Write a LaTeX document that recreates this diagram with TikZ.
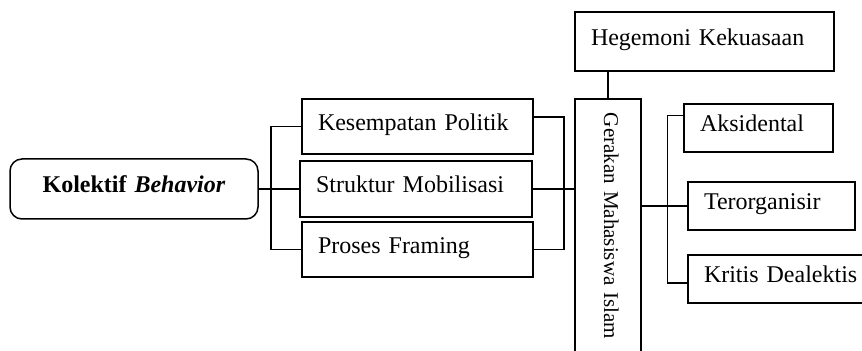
\documentclass[tikz,border=0pt]{standalone}
\usepackage{fontspec}
\setmainfont{Liberation Serif}
\usetikzlibrary{calc}

\tikzset{
  kotak/.style={draw, line width=0.75pt, inner xsep=8pt, align=left, text height=8pt, text depth=4pt, font=\fontsize{12pt}{14pt}\selectfont},
  garis/.style={line width=0.75pt},
}

\begin{document}
\begin{tikzpicture}[x=0.5pt,y=-0.5pt]
	\clip (0,0) rectangle (862,351);
	% kiri
	\node[kotak, rounded corners=6pt, align=center, text width=108pt, minimum height=30pt] (kolektif) at (134,189) {\textbf{Kolektif \textit{Behavior}}};
	\node[kotak, text width=99.5pt, minimum height=27.5pt] (kesempatan) at (417.5,126.5) {Kesempatan Politik};
	\node[kotak, text width=100pt, minimum height=28pt] (struktur) at (416,189) {Struktur Mobilisasi};
	\node[kotak, text width=99.5pt, minimum height=27.5pt] (proses) at (417.5,249.5) {Proses Framing};
	% tengah
	\node[kotak, rotate=-90, inner xsep=7pt, text width=140pt, minimum height=33pt, font=\fontsize{10.5pt}{12pt}\selectfont] (gerakan) at (608,253) {Gerakan Mahasiswa Islam};
	\node[kotak, text width=113.5pt, minimum height=29.5pt] (hegemoni) at (704.5,41.5) {Hegemoni Kekuasaan};
	% kanan
	\node[kotak, text width=58.5pt, minimum height=24pt] (aksidental) at (758.5,128) {Aksidental};
	\node[kotak, text width=67.5pt, minimum height=24pt] (terorganisir) at (771.5,206) {Terorganisir};
	\node[kotak, text width=84pt, minimum height=24pt] (kritis) at (788,279) {Kritis Dealektis};

	\coordinate (kiri) at ($(kolektif.east)+(12,0)$);
	\coordinate (kanan) at ($(struktur.east)+(31,0)$);
	\coordinate (cabang) at ($(terorganisir.west)+(-20,0)$);

	\draw[garis] (kolektif.east) -- (struktur.west);
	\draw[garis] (kesempatan.west) -| (kiri) |- (proses.west);
	\draw[garis] ($(kesempatan.north east)!0.33!(kesempatan.south east)$) -| (kanan) |- (proses.east);
	\draw[garis] (struktur.east) -- (struktur.east -| gerakan.south);
	\draw[garis] (gerakan.west) -- (gerakan.west |- hegemoni.south);
	\draw[garis] (terorganisir.west) -- (terorganisir.west -| gerakan.north);
	\draw[garis] ($(aksidental.north west)!0.25!(aksidental.south west)$) -| (cabang) |- ($(kritis.north west)!0.58!(kritis.south west)$);
\end{tikzpicture}
\end{document}
